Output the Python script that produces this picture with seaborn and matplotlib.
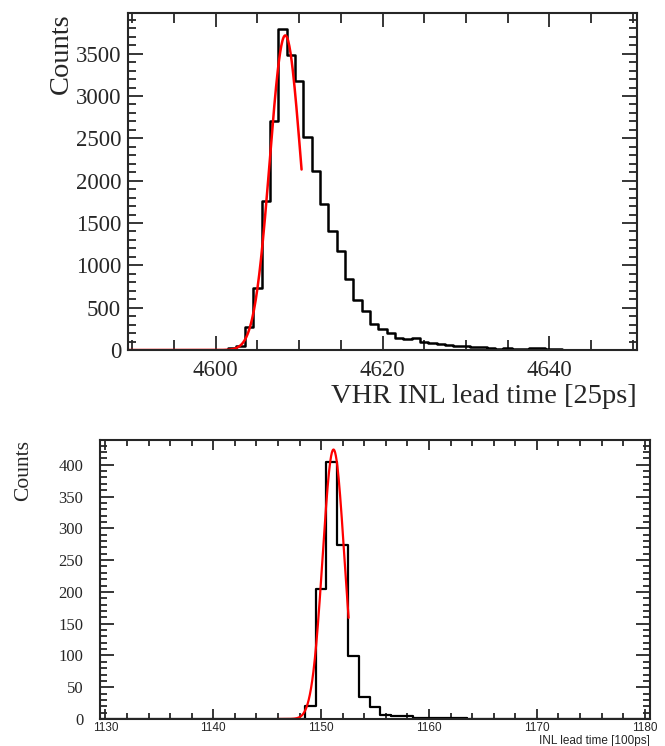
import numpy as np
import pandas as pd
import matplotlib
matplotlib.use("Agg")
import matplotlib.pyplot as plt
import seaborn as sns
from matplotlib.ticker import MultipleLocator

# VHR INL lead time histogram (unit bins, edges at .5)
vhr_centers = list(range(4590, 4651))
vhr_counts = [0] * 11 + [
    5, 20, 45, 268, 730, 1755, 2710, 3795, 3488, 3178,
    2519, 2120, 1730, 1405, 1165, 840, 593, 458, 308, 245,
    197, 146, 130, 138, 98, 87, 67, 59, 51, 47,
    35, 35, 24, 12, 20, 16, 12, 28, 20, 12,
    12, 6, 6, 4, 3, 2, 2, 1, 1, 1]
# gaussian fit: amplitude, mean, sigma, range
vhr_fit = (3716, 4608.35, 1.85, 4589.5, 4610.3)

# INL lead time histogram
inl_centers = list(range(1130, 1181))
inl_counts = [0] * 19 + [20, 204, 404, 273, 99, 34, 19, 6, 5, 5, 2, 1, 2, 1, 1] + [0] * 17
inl_fit = (424, 1151.15, 1.0, 1146.0, 1152.55)

sns.set_style("ticks")
plt.rcParams['font.family'] = ['Liberation Serif', 'DejaVu Serif']

fig = plt.figure(figsize=(6.65, 7.46), dpi=100)
ax1 = fig.add_axes([0.1925, 0.5308, 0.7654, 0.4517])
ax2 = fig.add_axes([0.1504, 0.0362, 0.8271, 0.3740])


def draw(ax, centers, counts, fit, lw):
    edges = [c - 0.5 for c in centers] + [centers[-1] + 0.5]
    df = pd.DataFrame({'x': centers, 'n': counts})
    sns.histplot(data=df, x='x', weights='n', bins=edges, element='step',
                 fill=False, color='black', linewidth=lw, ax=ax)
    amp, mu, sig, lo, hi = fit
    fx = np.linspace(lo, hi, 300)
    fy = amp * np.exp(-0.5 * ((fx - mu) / sig) ** 2)
    sns.lineplot(x=fx, y=fy, color='red', linewidth=lw, ax=ax)
    ax.set_xlim(edges[0], edges[-1])
    for s in ax.spines.values():
        s.set_linewidth(1.5)
        s.set_visible(True)
    ax.tick_params(which='both', direction='in', top=True, right=True, width=1.3)


# top panel
draw(ax1, vhr_centers, vhr_counts, vhr_fit, 1.8)
ax1.set_ylim(0, 3980)
ax1.xaxis.set_major_locator(MultipleLocator(20))
ax1.xaxis.set_minor_locator(MultipleLocator(5))
ax1.yaxis.set_major_locator(MultipleLocator(500))
ax1.yaxis.set_minor_locator(MultipleLocator(100))
ax1.tick_params(axis='x', which='major', length=10, pad=7, labelsize=16.5)
ax1.tick_params(axis='x', which='minor', length=7)
ax1.tick_params(axis='y', which='major', length=11, pad=5, labelsize=16.5)
ax1.tick_params(axis='y', which='minor', length=6)
ax1.set_xlabel('VHR INL lead time [25ps]', fontsize=20.5, loc='right')
ax1.xaxis.set_label_coords(1.0, -0.138)
ax1.xaxis.label.set_va('center')
ax1.set_ylabel('Counts', fontsize=20.5, loc='top')
ax1.yaxis.set_label_coords(-0.13, 1.0)
ax1.yaxis.label.set_va('center')

# bottom panel
draw(ax2, inl_centers, inl_counts, inl_fit, 1.6)
ax2.set_ylim(0, 439)
ax2.xaxis.set_major_locator(MultipleLocator(10))
ax2.xaxis.set_minor_locator(MultipleLocator(2))
ax2.yaxis.set_major_locator(MultipleLocator(50))
ax2.yaxis.set_minor_locator(MultipleLocator(10))
ax2.tick_params(axis='x', which='major', length=7, pad=2.5, labelsize=8.5)
ax2.tick_params(axis='x', which='minor', length=4)
ax2.tick_params(axis='y', which='major', length=10, pad=12, labelsize=12)
ax2.tick_params(axis='y', which='minor', length=5)
for lab in ax2.get_xticklabels():
    lab.set_fontfamily('Liberation Sans')
ax2.set_xlabel('INL lead time [100ps]', fontsize=8.5, loc='right',
               fontfamily='Liberation Sans')
ax2.xaxis.set_label_coords(1.0, -0.078)
ax2.xaxis.label.set_va('center')
ax2.set_ylabel('Counts', fontsize=15.5, loc='top')
ax2.yaxis.set_label_coords(-0.138, 1.0)
ax2.yaxis.label.set_va('center')

fig.savefig('out.png', dpi=100, facecolor='white')
